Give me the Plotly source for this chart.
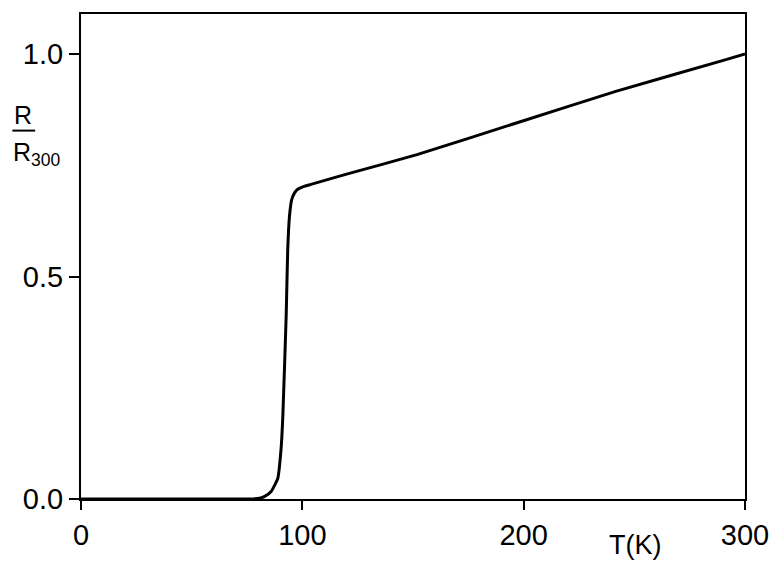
import plotly.graph_objects as go

# Temperature (K) and normalized resistance R/R300
T = [0, 20, 40, 60, 75, 80, 83, 85.9, 88.9, 90.4, 91.2, 92.7, 93.4, 94.2, 95.2,
     96.5, 97.9, 100.5, 103.9, 120, 151.8, 196.7, 241.6, 291, 300]
R = [0, 0, 0, 0, 0, 0.001, 0.006, 0.017, 0.046, 0.113, 0.188, 0.412, 0.561, 0.636,
     0.673, 0.688, 0.696, 0.702, 0.707, 0.730, 0.774, 0.845, 0.916, 0.987, 1.0]

x_ticks = [0, 100, 200, 300]
x_tick_labels = ["0", "100", "200", "300"]
y_ticks = [0.0, 0.5, 1.0]
y_tick_labels = ["0.0", "0.5", "1.0"]

FONT = "Liberation Sans, Arial, sans-serif"

fig = go.Figure()
fig.add_trace(go.Scatter(x=T, y=R, mode="lines",
                         line=dict(color="black", width=3, shape="spline", smoothing=0.4),
                         showlegend=False, hoverinfo="skip"))

fig.update_layout(
    width=781, height=563,
    margin=dict(l=81, r=33, t=14, b=62),
    paper_bgcolor="white", plot_bgcolor="white",
    font=dict(family=FONT, color="black", size=29),
    xaxis=dict(range=[0, 300], tickvals=x_ticks, ticktext=x_tick_labels,
               ticks="outside", ticklen=9, tickwidth=2, tickcolor="black",
               showline=True, linewidth=2, linecolor="black", mirror=True,
               showgrid=False, zeroline=False, tickfont=dict(size=29)),
    yaxis=dict(range=[0, 1.09], tickvals=y_ticks, ticktext=y_tick_labels,
               ticks="outside", ticklen=10, tickwidth=2, tickcolor="black",
               showline=True, linewidth=2, linecolor="black", mirror=True,
               showgrid=False, zeroline=False, tickfont=dict(size=29)),
)

# x-axis title "T(K)"
fig.add_annotation(text="T(K)", xref="paper", yref="paper", x=0.834, y=-0.094,
                   xanchor="center", yanchor="middle", showarrow=False,
                   font=dict(size=27, family=FONT))

# y-axis title as fraction R / R300
fig.add_annotation(text="R", xref="paper", yref="paper", x=-0.087, y=0.7925,
                   xanchor="center", yanchor="middle", showarrow=False,
                   font=dict(size=25, family=FONT))
fig.add_shape(type="line", xref="paper", yref="paper", x0=-0.1034, x1=-0.069,
              y0=0.7596, y1=0.7596, line=dict(color="black", width=2))
fig.add_annotation(text="R<sub>300</sub>", xref="paper", yref="paper", x=-0.105, y=0.712,
                   xanchor="left", yanchor="middle", showarrow=False,
                   font=dict(size=25, family=FONT))

fig.write_html("out.html")
